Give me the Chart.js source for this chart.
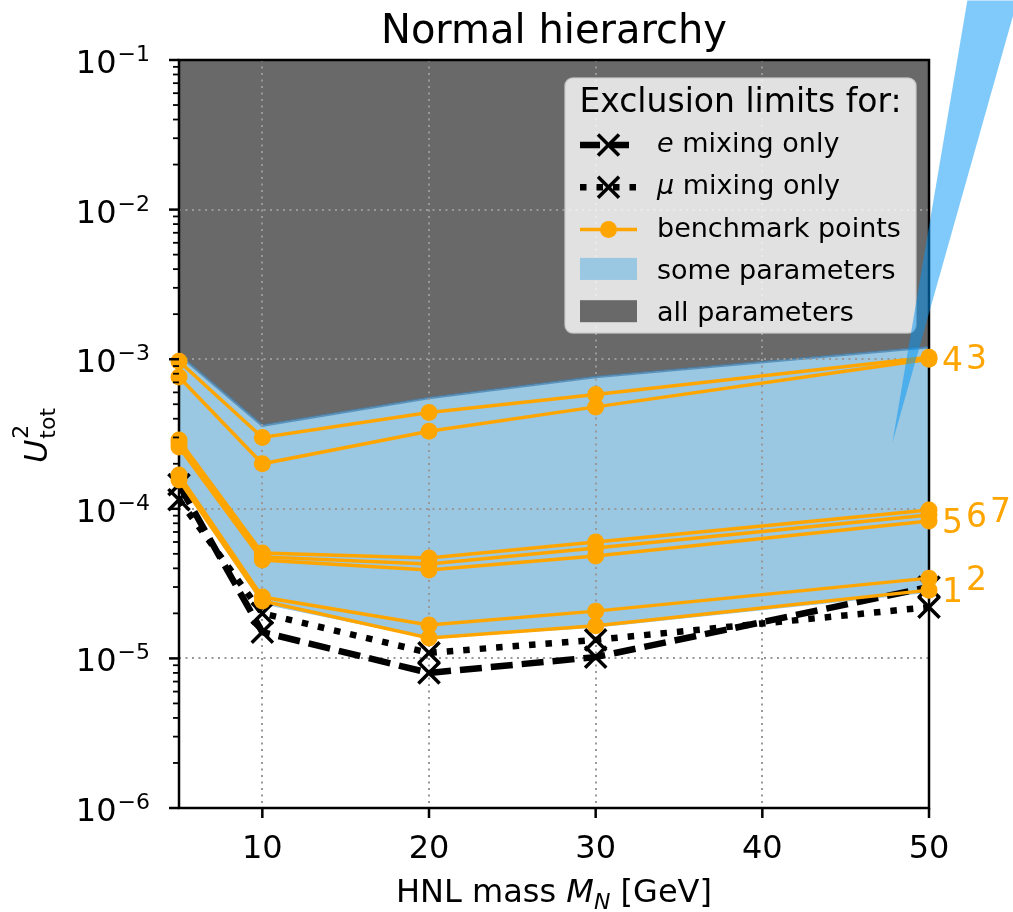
<!DOCTYPE html>
<html>
<head>
<meta charset="utf-8">
<title>Normal hierarchy</title>
<script src="https://cdn.jsdelivr.net/npm/chart.js@4.4.1/dist/chart.umd.min.js"></script>
<style>
  html, body { margin: 0; padding: 0; background: #fff; }
  #wrap { width: 1013px; height: 912px; position: relative; }
</style>
</head>
<body>
<div id="wrap"><canvas id="chart"></canvas></div>
<script>
(function () {
    "use strict";

    // ---- Data ----
    const massGeV = [5, 10, 20, 30, 50];
    const eMixing = [1.45e-4, 1.5e-5, 8.0e-6, 1.02e-5, 3.0e-5];
    const muMixing = [1.15e-4, 2.0e-5, 1.09e-5, 1.33e-5, 2.2e-5];

    const bp1 = [1.56e-4, 2.42e-5, 1.37e-5, 1.65e-5, 2.86e-5];
    const bp2 = [1.68e-4, 2.57e-5, 1.67e-5, 2.07e-5, 3.44e-5];
    const bp3 = [9.7e-4, 3.0e-4, 4.4e-4, 5.8e-4, 1.03e-3];
    const bp4 = [7.6e-4, 2.0e-4, 3.3e-4, 4.8e-4, 1.0e-3];
    const bp5 = [2.59e-4, 4.55e-5, 3.9e-5, 4.84e-5, 8.3e-5];
    const bp6 = [2.75e-4, 4.77e-5, 4.27e-5, 5.47e-5, 9.1e-5];
    const bp7 = [2.88e-4, 5.07e-5, 4.69e-5, 6.0e-5, 9.8e-5];
    const benchmarks = [bp1, bp2, bp3, bp4, bp5, bp6, bp7];
    const benchmarkNames = ["1", "2", "3", "4", "5", "6", "7"];

    // excluded regions: "some parameters" band and "all parameters" above it
    const someUpper = [1.07e-3, 3.6e-4, 5.5e-4, 7.6e-4, 1.2e-3];
    const someLower = [1.5e-4, 2.3e-5, 1.36e-5, 1.6e-5, 2.75e-5];

    // stray light-blue wedge poking in from the right
    const wedgeX = [47.8, 52.3, 55.3];
    const wedgeY = [2.75e-4, 0.25, 0.25];

    const xTicks = [10, 20, 30, 40, 50];
    const yDecades = [-6, -5, -4, -3, -2, -1];

    // ---- Palette ----
    const COLORS = {
        orange: "#ffa500",
        grey: "#696969",
        blue: "#9ac7e2",
        blueEdge: "rgba(70,130,175,0.75)",
        grid: "#999999",
        wedge: "rgba(0,150,245,0.5)",
    };
    const FONT = "'DejaVu Sans', sans-serif";

    const pts = (ys) => ys.map((v, i) => ({ x: massGeV[i], y: v }));

    // ---- Datasets ----
    const datasets = [];
    datasets.push({
        label: "all parameters",
        data: pts(someUpper),
        fill: "end",
        backgroundColor: COLORS.grey,
        borderWidth: 0,
        pointRadius: 0,
        order: 8,
    });
    const IDX_LOWER = datasets.length;
    datasets.push({
        label: "lower edge",
        data: pts(someLower),
        fill: false,
        borderWidth: 0,
        pointRadius: 0,
        order: 7,
    });
    const IDX_SOME = datasets.length;
    datasets.push({
        label: "some parameters",
        data: pts(someUpper),
        fill: IDX_LOWER,
        backgroundColor: COLORS.blue,
        borderColor: COLORS.blueEdge,
        borderWidth: 2.5,
        pointRadius: 0,
        order: 6,
    });
    datasets.push({
        label: "e mixing only",
        data: pts(eMixing),
        fill: false,
        borderColor: "#000",
        borderWidth: 6.5,
        borderDash: [22, 9],
        pointStyle: "crossRot",
        pointRadius: 15,
        pointBorderWidth: 3.5,
        pointBorderColor: "#000",
        clip: false,
        order: 4,
    });
    datasets.push({
        label: "mu mixing only",
        data: pts(muMixing),
        fill: false,
        borderColor: "#000",
        borderWidth: 6.5,
        borderDash: [6.5, 10],
        pointStyle: "crossRot",
        pointRadius: 15,
        pointBorderWidth: 3.5,
        pointBorderColor: "#000",
        clip: false,
        order: 3,
    });
    benchmarks.forEach(function (series, i) {
        datasets.push({
            label: "benchmark " + benchmarkNames[i],
            data: pts(series),
            fill: false,
            borderColor: COLORS.orange,
            borderWidth: 3.5,
            pointRadius: 8.5,
            pointBackgroundColor: COLORS.orange,
            pointBorderColor: COLORS.orange,
            pointBorderWidth: 0,
            clip: false,
            order: 1,
        });
    });

    // ---- Drawing helpers ----
    function line(ctx, x1, y1, x2, y2) {
        ctx.beginPath();
        ctx.moveTo(x1, y1);
        ctx.lineTo(x2, y2);
        ctx.stroke();
    }

    function drawGrid(chart) {
        const { ctx, chartArea: a, scales } = chart;
        ctx.save();
        ctx.strokeStyle = COLORS.grid;
        ctx.lineWidth = 2;
        ctx.setLineDash([2, 4.5]);
        xTicks.forEach(function (v) {
            const px = Math.round(scales.x.getPixelForValue(v));
            line(ctx, px, a.top, px, a.bottom);
        });
        yDecades.forEach(function (d) {
            const py = Math.round(scales.y.getPixelForValue(Math.pow(10, d)));
            line(ctx, a.left, py, a.right, py);
        });
        ctx.restore();
    }

    function drawFrame(chart) {
        const { ctx, chartArea: a } = chart;
        ctx.save();
        ctx.strokeStyle = "#000";
        ctx.lineWidth = 2.5;
        ctx.strokeRect(a.left, a.top, a.right - a.left, a.bottom - a.top);
        ctx.restore();
    }

    function drawTicks(chart) {
        const { ctx, chartArea: a, scales } = chart;
        ctx.save();
        ctx.strokeStyle = "#000";
        ctx.fillStyle = "#000";

        // y: major + minor tick marks
        ctx.lineWidth = 2.5;
        yDecades.forEach(function (d) {
            const py = scales.y.getPixelForValue(Math.pow(10, d));
            line(ctx, a.left - 10, py, a.left, py);
        });
        ctx.lineWidth = 1.8;
        yDecades.slice(0, -1).forEach(function (d) {
            for (let k = 2; k <= 9; k++) {
                const py = scales.y.getPixelForValue(k * Math.pow(10, d));
                line(ctx, a.left - 6, py, a.left, py);
            }
        });

        // y labels 10^{-n}
        const right = a.left - 29;
        ctx.textAlign = "right";
        ctx.textBaseline = "alphabetic";
        yDecades.forEach(function (d) {
            const py = scales.y.getPixelForValue(Math.pow(10, d));
            const sup = "\u2212" + Math.abs(d);
            ctx.font = "22px " + FONT;
            const supW = ctx.measureText(sup).width;
            ctx.fillText(sup, right, py + 1);
            ctx.font = "32px " + FONT;
            ctx.fillText("10", right - supW - 1, py + 13);
        });

        // x ticks + labels
        ctx.lineWidth = 2.5;
        ctx.textAlign = "center";
        ctx.font = "32px " + FONT;
        xTicks.forEach(function (v) {
            const px = scales.x.getPixelForValue(v);
            line(ctx, px, a.bottom, px, a.bottom + 10);
            ctx.fillText(String(v), px, a.bottom + 50);
        });
        ctx.restore();
    }

    function drawPieces(ctx, pieces, x0, y0) {
        let x = x0;
        pieces.forEach(function (p) {
            ctx.font = p.font;
            ctx.fillText(p.t, x, y0 + (p.dy || 0));
            x += ctx.measureText(p.t).width;
        });
    }

    function piecesWidth(ctx, pieces) {
        return pieces.reduce(function (w, p) {
            ctx.font = p.font;
            return w + ctx.measureText(p.t).width;
        }, 0);
    }

    function drawTitles(chart) {
        const { ctx, chartArea: a } = chart;
        const cx = (a.left + a.right) / 2;
        const cy = (a.top + a.bottom) / 2;
        ctx.save();
        ctx.fillStyle = "#000";
        ctx.textBaseline = "alphabetic";

        ctx.textAlign = "center";
        ctx.font = "40px " + FONT;
        ctx.fillText("Normal hierarchy", cx, 43);

        // x axis title
        ctx.textAlign = "left";
        const xl = [
            { t: "HNL mass ", font: "32px " + FONT },
            { t: "M", font: "italic 32px " + FONT },
            { t: "N", font: "italic 22px " + FONT, dy: 7 },
            { t: " [GeV]", font: "32px " + FONT },
        ];
        drawPieces(ctx, xl, cx - piecesWidth(ctx, xl) / 2, a.bottom + 94);

        // y axis title U^2_tot, rotated
        ctx.translate(a.left - 132, cy + 2);
        ctx.rotate(-Math.PI / 2);
        ctx.font = "italic 32px " + FONT;
        const uW = ctx.measureText("U").width;
        ctx.font = "22px " + FONT;
        const subW = ctx.measureText("tot").width;
        const x0 = -(uW + subW) / 2;
        ctx.font = "italic 32px " + FONT;
        ctx.fillText("U", x0, 0);
        ctx.font = "22px " + FONT;
        ctx.fillText("2", x0 + uW + 1, -19);
        ctx.fillText("tot", x0 + uW + 1, 8);
        ctx.restore();
    }

    function drawCurveLabels(chart) {
        const { ctx, scales } = chart;
        const lastX = massGeV[massGeV.length - 1];
        const ends = benchmarks
            .map((s, i) => ({ i, v: s[s.length - 1] }))
            .sort((p, q) => p.v - q.v);
        ctx.save();
        ctx.font = "33px " + FONT;
        ctx.fillStyle = COLORS.orange;
        ctx.textAlign = "left";
        ctx.textBaseline = "alphabetic";
        let slot = 0;
        ends.forEach(function (e, k) {
            if (k > 0 && e.v / ends[k - 1].v > 1.6) slot = 0;
            const px = scales.x.getPixelForValue(lastX) + 13 + 24 * slot;
            const py = scales.y.getPixelForValue(e.v) + 12;
            ctx.fillText(benchmarkNames[e.i], px, py);
            slot++;
        });
        ctx.restore();
    }

    function drawX(ctx, cx, cy, r) {
        line(ctx, cx - r, cy - r, cx + r, cy + r);
        line(ctx, cx - r, cy + r, cx + r, cy - r);
    }

    function drawLegend(chart) {
        const { ctx, chartArea: a } = chart;
        const bw = 351, bh = 255;
        const bx = a.right - 13 - bw;
        const by = a.top + 18;
        ctx.save();
        ctx.beginPath();
        ctx.roundRect(bx, by, bw, bh, 8);
        ctx.fillStyle = "rgba(255,255,255,0.8)";
        ctx.fill();
        ctx.strokeStyle = "rgba(204,204,204,0.8)";
        ctx.lineWidth = 1.5;
        ctx.stroke();

        ctx.fillStyle = "#000";
        ctx.textAlign = "center";
        ctx.textBaseline = "alphabetic";
        ctx.font = "33px " + FONT;
        ctx.fillText("Exclusion limits for:", bx + bw / 2, by + 34);

        const h1 = bx + 15, h2 = bx + 72, hc = (h1 + h2) / 2;
        const tx = bx + 92;
        const rowY = (i) => by + 74 + 42.3 * i;
        const itemFont = "27px " + FONT;
        ctx.textAlign = "left";

        // e mixing
        let y = rowY(0), my = y - 7;
        ctx.strokeStyle = "#000";
        ctx.lineWidth = 6.5;
        ctx.setLineDash([20, 9]);
        line(ctx, h1, my, h2, my);
        ctx.setLineDash([]);
        ctx.lineWidth = 3.5;
        drawX(ctx, hc, my, 10.5);
        drawPieces(ctx, [
            { t: "e", font: "italic " + itemFont },
            { t: " mixing only", font: itemFont },
        ], tx, y);

        // mu mixing
        y = rowY(1); my = y - 7;
        ctx.lineWidth = 6.5;
        ctx.setLineDash([6.5, 10]);
        line(ctx, h1, my, h2, my);
        ctx.setLineDash([]);
        ctx.lineWidth = 3.5;
        drawX(ctx, hc, my, 10.5);
        drawPieces(ctx, [
            { t: "\u03bc", font: "italic " + itemFont },
            { t: " mixing only", font: itemFont },
        ], tx, y);

        // benchmark
        y = rowY(2); my = y - 7;
        ctx.strokeStyle = COLORS.orange;
        ctx.lineWidth = 3.5;
        line(ctx, h1, my, h2, my);
        ctx.fillStyle = COLORS.orange;
        ctx.beginPath();
        ctx.arc(hc, my, 8.5, 0, Math.PI * 2);
        ctx.fill();
        ctx.fillStyle = "#000";
        ctx.font = itemFont;
        ctx.fillText("benchmark points", tx, y);

        // patches
        y = rowY(3);
        ctx.fillStyle = COLORS.blue;
        ctx.fillRect(h1, y - 21, h2 - h1, 22);
        ctx.fillStyle = "#000";
        ctx.fillText("some parameters", tx, y);

        y = rowY(4);
        ctx.fillStyle = COLORS.grey;
        ctx.fillRect(h1, y - 21, h2 - h1, 22);
        ctx.fillStyle = "#000";
        ctx.fillText("all parameters", tx, y);
        ctx.restore();
    }

    function drawWedge(chart) {
        const { ctx, scales } = chart;
        ctx.save();
        ctx.fillStyle = COLORS.wedge;
        ctx.beginPath();
        wedgeX.forEach(function (v, i) {
            const px = scales.x.getPixelForValue(v);
            const py = scales.y.getPixelForValue(wedgeY[i]);
            if (i === 0) ctx.moveTo(px, py);
            else ctx.lineTo(px, py);
        });
        ctx.closePath();
        ctx.fill();
        ctx.restore();
    }

    const hnlDecor = {
        id: "hnlDecor",
        afterDatasetDraw(chart, args) {
            if (args.index !== IDX_SOME) return;
            drawGrid(chart);
            drawFrame(chart);
        },
        afterDatasetsDraw(chart) {
            drawCurveLabels(chart);
            drawLegend(chart);
            drawWedge(chart);
        },
        afterDraw(chart) {
            drawTicks(chart);
            drawTitles(chart);
        },
    };

    Chart.defaults.font.family = FONT;

    new Chart(document.getElementById("chart"), {
        type: "line",
        data: { datasets },
        options: {
            responsive: true,
            maintainAspectRatio: false,
            animation: false,
            events: [],
            layout: { padding: { left: 179, top: 60, right: 84, bottom: 104 } },
            elements: { line: { tension: 0 } },
            plugins: {
                legend: { display: false },
                tooltip: { enabled: false },
                title: { display: false },
            },
            scales: {
                x: { type: "linear", min: 5, max: 50, display: false },
                y: { type: "logarithmic", min: 1e-6, max: 1e-1, display: false },
            },
        },
        plugins: [hnlDecor],
    });
})();
</script>
</body>
</html>
